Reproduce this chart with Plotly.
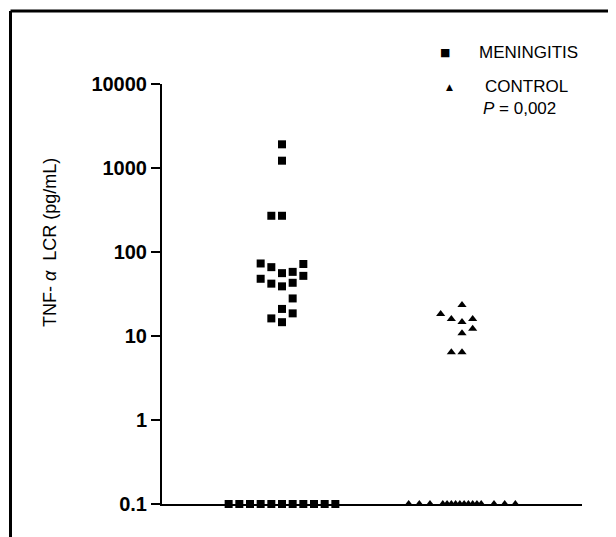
import plotly.graph_objects as go

# ---- data ----
groups = ["MENINGITIS", "CONTROL"]
group_center = [1.2, 3.0]          # column centres on the hidden x scale
slot_width = 0.1067                # jitter step on the hidden x scale

men_values = [1914, 1222, 270, 270, 73, 66, 56, 58, 72, 48, 42, 39, 43, 52,
              28, 21, 18.6, 16.2, 14.6] + [0.1] * 11
men_slots = [0, 0, -1, 0, -2, -1, 0, 1, 2, -2, -1, 0, 1, 2,
             1, 0, 1, -1, 0] + [-5, -4, -3, -2, -1, 0, 1, 2, 3, 4, 5]

ctl_values = [23.4, 18.3, 15.9, 14.7, 15.9, 12.2, 10.8, 6.4, 6.4] + [0.1] * 16
ctl_slots = [0, -2, -1, 0, 1, 1, 0, -1, 0] + [-5, -4, -3,
             -1.8, -1.4, -1.0, -0.6, -0.2, 0.2, 0.6, 1.0, 1.4, 1.8,
             3, 4, 5]

y_tickvals = [0.1, 1, 10, 100, 1000, 10000]
y_ticktext = ["0.1", "1", "10", "100", "1000", "10000"]
p_text = "<i>P</i> = 0,002"
y_title = "TNF-\u00a0<i>\u03b1</i>\u00a0\u00a0LCR (pg/mL)"

# ---- figure ----
OFF = 8                      # page body margin
W, H = 616 - OFF, 537 - OFF
L, R, T, B = 162 - OFF, 34, 84 - OFF, 33
PW, PH = W - L - R, H - T - B

def px(x):                   # page pixel -> paper x
    return (x - OFF - L) / PW

def py(y):                   # page pixel -> paper y
    return (H - B - (y - OFF)) / PH

fig = go.Figure()
fig.add_trace(go.Scatter(
    x=[group_center[0] + s * slot_width for s in men_slots], y=men_values,
    mode="markers", name=groups[0], cliponaxis=False,
    marker=dict(symbol="square", size=8, color="black", line=dict(width=0))))
fig.add_trace(go.Scatter(
    x=[group_center[1] + s * slot_width for s in ctl_slots], y=ctl_values,
    mode="markers", name=groups[1], cliponaxis=False,
    marker=dict(symbol="triangle-up", size=8, color="black", line=dict(width=0))))

fig.update_layout(
    width=W, height=H, margin=dict(l=L, r=R, t=T, b=B, pad=0),
    paper_bgcolor="white", plot_bgcolor="white", showlegend=False,
    font=dict(family="Liberation Sans, Arial, sans-serif", color="black"),
)
fig.update_xaxes(range=[0, 4.2], showline=True, linewidth=2, linecolor="black",
                 showticklabels=False, ticks="", showgrid=False, zeroline=False)
fig.update_yaxes(type="log", range=[-1, 4], showline=True, linewidth=2,
                 linecolor="black", ticks="outside", ticklen=9, tickwidth=2,
                 tickcolor="black", tickvals=y_tickvals, ticktext=y_ticktext,
                 tickfont=dict(size=20, weight="bold", color="black"),
                 showgrid=False, zeroline=False)

# frame (top and left edges)
fig.add_shape(type="line", xref="paper", yref="paper", x0=px(10.5), x1=px(620),
              y0=py(11), y1=py(11), line=dict(color="black", width=3))
fig.add_shape(type="line", xref="paper", yref="paper", x0=px(10.5), x1=px(10.5),
              y0=py(11), y1=py(545), line=dict(color="black", width=3))

# y title
fig.add_annotation(xref="paper", yref="paper", x=px(50), y=py(243), text=y_title,
                   textangle=-90, showarrow=False, font=dict(size=18, color="black"),
                   xanchor="center", yanchor="middle")

# legend
fig.add_annotation(xref="paper", yref="paper", x=px(445), y=py(52), text="\u25a0",
                   showarrow=False, font=dict(size=11, family="DejaVu Sans"),
                   xanchor="center", yanchor="middle")
fig.add_annotation(xref="paper", yref="paper", x=px(449), y=py(87), text="\u25b2",
                   showarrow=False, font=dict(size=9, family="DejaVu Sans"),
                   xanchor="center", yanchor="middle")
fig.add_annotation(xref="paper", yref="paper", x=px(477), y=py(52), text=groups[0],
                   showarrow=False, font=dict(size=17), xanchor="left", yanchor="middle")
fig.add_annotation(xref="paper", yref="paper", x=px(483), y=py(87), text=groups[1],
                   showarrow=False, font=dict(size=17), xanchor="left", yanchor="middle")
fig.add_annotation(xref="paper", yref="paper", x=px(481), y=py(108), text=p_text,
                   showarrow=False, font=dict(size=17), xanchor="left", yanchor="middle")

fig.write_html("out.html")
